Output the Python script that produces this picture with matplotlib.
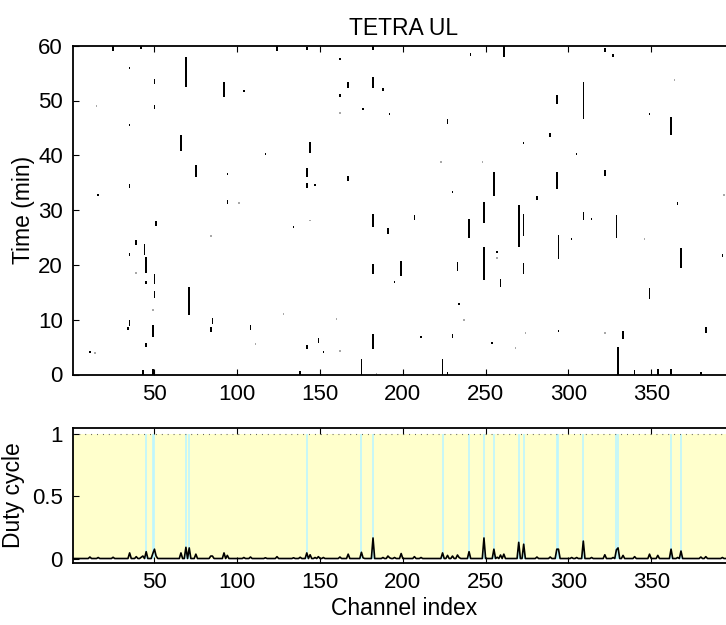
import matplotlib
matplotlib.use("Agg")
import matplotlib.pyplot as plt
import numpy as np

plt.rcParams['font.family'] = ['Liberation Sans', 'DejaVu Sans']

# occupied segments: channel, start (min), end (min)
seg_channel = [25, 42, 124, 142, 182, 35, 50, 69, 92, 104, 162, 167, 182, 188, 50, 162, 176, 192,
               35, 66, 144, 117, 75, 94, 142, 142, 147, 167, 35, 16, 94, 51, 134, 182, 191, 39,
               44, 35, 45, 50, 45, 50, 71, 182, 195, 35, 34, 85, 84, 108, 49, 45, 142, 149, 152,
               182, 11, 43, 49, 138, 175, 199,
               241, 261, 293, 227, 289, 273, 255, 293, 230, 281, 207, 249, 270, 273, 240, 294,
               257, 233, 249, 273, 259, 234, 211, 230, 254, 294, 224, 227,
               322, 327, 309, 349, 362, 305, 322, 366, 309, 314, 329, 302, 368, 393, 349, 333,
               383, 330, 340, 354, 362, 380]
seg_start = [59.1, 59.4, 59.1, 59.3, 59.2, 55.8, 53.0, 52.4, 50.6, 51.6, 57.3, 52.2, 52.2, 51.8, 48.5, 50.7, 48.3, 47.3,
             45.3, 40.8, 40.5, 40.0, 36.1, 36.4, 36.1, 34.1, 34.4, 35.3, 34.0, 32.5, 31.1, 27.1, 26.7, 26.9, 25.6, 23.6,
             21.8, 21.7, 18.6, 16.5, 16.6, 14.0, 10.8, 18.3, 16.7, 8.8, 8.1, 9.2, 7.8, 8.2, 6.9, 5.0, 4.7, 5.7, 3.9,
             4.7, 3.9, 0.0, 0.0, 0.0, 0.0, 17.9,
             58.2, 57.9, 49.4, 45.7, 43.3, 42.0, 32.6, 33.8, 33.1, 31.8, 28.2, 27.6, 23.2, 25.3, 25.0, 21.1,
             22.1, 18.9, 17.3, 18.3, 15.9, 12.6, 6.7, 6.6, 5.6, 7.7, 0.0, 0.0,
             58.8, 58.0, 46.7, 47.3, 43.7, 40.0, 36.3, 31.0, 28.2, 28.2, 25.0, 24.6, 19.5, 21.5, 13.7, 6.4,
             7.6, 0.0, 0.0, 0.0, 0.0, 0.0]
seg_end = [60.0, 60.0, 60.0, 59.8, 60.0, 56.2, 54.0, 58.0, 53.3, 52.0, 57.7, 53.4, 54.2, 52.2, 49.2, 51.1, 48.6, 47.7,
           45.7, 43.7, 42.4, 40.4, 38.2, 36.8, 37.6, 34.9, 34.8, 36.3, 34.7, 32.9, 31.8, 28.0, 27.1, 29.2, 26.8, 24.5,
           23.9, 22.1, 21.5, 18.4, 17.0, 15.2, 16.0, 20.1, 17.1, 9.9, 8.7, 10.3, 8.7, 9.0, 9.0, 5.8, 5.3, 6.6, 4.3,
           7.4, 4.3, 0.8, 1.0, 0.7, 2.9, 20.7,
           58.6, 60.0, 51.0, 46.7, 44.0, 42.4, 36.9, 36.9, 33.5, 32.6, 29.1, 31.4, 31.0, 29.3, 28.4, 25.4,
           22.5, 20.6, 23.2, 20.4, 17.4, 13.0, 7.1, 7.4, 6.0, 8.1, 2.8, 0.5,
           59.6, 58.4, 53.4, 47.7, 46.9, 40.4, 37.4, 31.4, 29.6, 28.6, 29.1, 25.0, 23.0, 21.9, 15.7, 7.9,
           8.6, 5.0, 0.8, 1.0, 1.0, 0.4]

# weak (partial) detections: channel, time (min)
weak_channel = [15, 162, 101, 144, 84, 39, 49, 128, 160, 111, 162, 184, 223, 248, 257, 237, 274,
                268, 364, 394, 346, 322, 14]
weak_time = [49.0, 47.8, 31.3, 28.1, 25.2, 18.6, 11.7, 11.0, 10.1, 5.5, 4.3, 0.15, 38.7, 38.7, 21.3,
             9.9, 7.5, 4.9, 53.7, 32.7, 24.8, 7.6, 3.95]

# duty cycle per channel (channels not listed are ~0)
n_channels = 400
duty_channel = [11, 16, 25, 35, 39, 42, 43, 45, 49, 50, 51, 66, 69, 71, 75, 84, 85, 92, 94, 104, 108,
                117, 124, 134, 138, 142, 144, 147, 149, 152, 162, 167, 175, 176, 182, 188, 191, 192,
                195, 199, 207, 211, 224, 227, 230, 233, 234, 240, 249, 255, 257, 259, 261, 270, 273,
                281, 289, 293, 294, 302, 305, 309, 314, 322, 327, 329, 330, 333, 340, 349, 354, 362,
                366, 368, 380, 383, 393]
duty_value = [0.012, 0.008, 0.01, 0.045, 0.015, 0.01, 0.02, 0.055, 0.04, 0.075, 0.02, 0.045, 0.09,
              0.085, 0.035, 0.02, 0.02, 0.045, 0.025, 0.008, 0.012, 0.006, 0.015, 0.006, 0.01, 0.045,
              0.03, 0.008, 0.015, 0.008, 0.012, 0.035, 0.05, 0.005, 0.165, 0.008, 0.02, 0.006, 0.008,
              0.04, 0.015, 0.008, 0.045, 0.025, 0.02, 0.028, 0.008, 0.055, 0.165, 0.075, 0.01, 0.028,
              0.035, 0.13, 0.115, 0.012, 0.012, 0.075, 0.075, 0.008, 0.008, 0.14, 0.008, 0.03, 0.008,
              0.07, 0.085, 0.025, 0.015, 0.035, 0.025, 0.075, 0.008, 0.06, 0.012, 0.015, 0.008]

# channels flagged as busy
busy_channel = [45, 49, 50, 69, 71, 142, 175, 182, 224, 240, 249, 255, 270, 273, 293, 294, 309,
                329, 330, 362, 368]

channels = np.arange(1, n_channels + 1)
duty = np.zeros(n_channels)
duty[np.array(duty_channel) - 1] = duty_value

FS = 16
W, H = 726, 625
fig = plt.figure(figsize=(W / 100, H / 100), dpi=100)

x0 = 72.5 / W
xw = 662.3 / W
ax1 = fig.add_axes([x0, (H - 374.5) / H, xw, (374.5 - 45.7) / H])
ax2 = fig.add_axes([x0, (H - 562.5) / H, xw, (562.5 - 428) / H])

# occupancy raster
s = np.array(seg_start)
e = np.array(seg_end)
ax1.bar(seg_channel, e - s, bottom=s, width=0.95, color='black', linewidth=0)
wt = np.array(weak_time)
ax1.bar(weak_channel, 0.35, bottom=wt - 0.175, width=0.95, color='#a8a8a8', linewidth=0)
ax1.set_xlim(0.5, n_channels + 0.5)
ax1.set_ylim(0, 60)
ax1.set_xticks([50, 100, 150, 200, 250, 300, 350])
ax1.set_yticks([0, 10, 20, 30, 40, 50, 60])
ax1.set_ylabel('Time (min)', fontsize=FS + 0.5)
ax1.yaxis.set_label_coords(-0.057, 0.5)
ax1.set_title('TETRA UL', fontsize=FS + 0.5, pad=8)

# duty cycle
ax2.axhspan(0, 1, color='#ffffcc', linewidth=0, zorder=0)
ax2.vlines(busy_channel, 0, 1, color='#bdf6ff', linewidth=1.2, zorder=1)
ax2.plot(channels, np.ones(n_channels), color='#555555', linestyle=(0, (0.8, 4.5)),
         linewidth=0.8, zorder=2)
ax2.plot(channels, duty, color='black', linewidth=1.2, zorder=3)
ax2.set_xlim(0.5, n_channels + 0.5)
ax2.set_ylim(-0.032, 1.048)
ax2.set_xticks([50, 100, 150, 200, 250, 300, 350])
ax2.set_yticks([0, 0.5, 1])
ax2.set_yticklabels(['0', '0.5', '1'])
ax2.set_ylabel('Duty cycle', fontsize=FS + 0.5)
ax2.yaxis.set_label_coords(-0.071, 0.5)
ax2.set_xlabel('Channel index', fontsize=FS + 0.5, labelpad=3)

for ax in (ax1, ax2):
    ax.tick_params(direction='in', length=4, width=0.8, labelsize=FS,
                   top=True, right=True, pad=7)
    for sp in ax.spines.values():
        sp.set_linewidth(1.3)

fig.savefig('out.png', dpi=100)
